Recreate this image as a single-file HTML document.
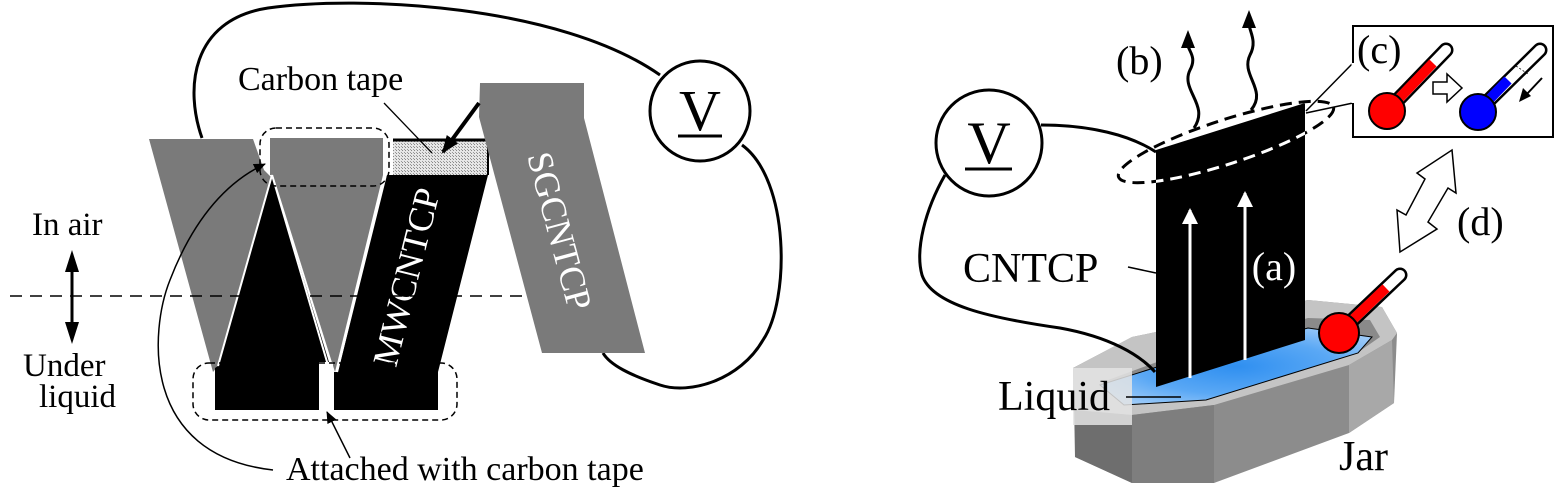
<!DOCTYPE html>
<html><head><meta charset="utf-8"><style>
html,body{margin:0;padding:0;background:#fff;}
svg{display:block;}
svg text{font-family:"Liberation Serif","DejaVu Serif","Times New Roman",serif;}
</style></head><body>
<svg width="1554" height="497" viewBox="0 0 1554 497" xmlns="http://www.w3.org/2000/svg" font-family="Liberation Serif, DejaVu Serif, serif">
<defs>
<pattern id="hatch" width="3" height="3" patternUnits="userSpaceOnUse">
<rect width="3" height="3" fill="#e6e6e6"/><rect width="1" height="1" fill="#888"/><rect x="2" y="2" width="1" height="1" fill="#999"/>
</pattern>
<marker id="ah" markerWidth="12" markerHeight="10" refX="11" refY="5" orient="auto" markerUnits="userSpaceOnUse"><path d="M0,0 L12,5 L0,10 z" fill="#000"/></marker>
<marker id="ahb" markerWidth="18" markerHeight="14" refX="16" refY="7" orient="auto" markerUnits="userSpaceOnUse"><path d="M0,0 L18,7 L0,14 z" fill="#000"/></marker>
<marker id="ahw" markerWidth="16" markerHeight="22" refX="14" refY="8" orient="auto" markerUnits="userSpaceOnUse"><path d="M0,0 L16,8 L0,16 z" fill="#fff"/></marker>
<clipPath id="panelclip"><polygon points="1156,150 1305,103 1305,340 1156,387"/></clipPath>
<radialGradient id="water" cx="0.5" cy="0.5" r="0.6"><stop offset="0" stop-color="#2f8ff0"/><stop offset="0.6" stop-color="#5aa8f5"/><stop offset="1" stop-color="#9ccaf8"/></radialGradient>
</defs>

<!-- LEFT FIGURE -->
<path d="M202,138 C185,90 190,20 268,8 C360,-5 560,5 660,75" fill="none" stroke="#000" stroke-width="3"/>
<path d="M742,145 C790,180 790,300 763,340 C740,380 690,395 660,385 C630,375 610,365 603,353" fill="none" stroke="#000" stroke-width="3"/>
<circle cx="700" cy="111" r="50" fill="#fff" stroke="#000" stroke-width="3"/>
<text x="700" y="130" font-size="58" text-anchor="middle">V</text>
<line x1="678" y1="136" x2="722" y2="136" stroke="#000" stroke-width="3"/>

<!-- gray left -->
<polygon points="149,139 253,139 264,170 271,177 218,366 213,372" fill="#7a7a7a"/>
<!-- gray second -->
<polygon points="270,138 383,138 383,175 335,372 273,175 270,175" fill="#7a7a7a"/>
<!-- black triangle -->
<polygon points="272,175 332,372 325,372 325,410 215,410 215,368 218,366" fill="#000"/>
<line x1="272" y1="175" x2="218" y2="366" stroke="#fff" stroke-width="2"/>
<line x1="272" y1="175" x2="330" y2="372" stroke="#fff" stroke-width="2"/>
<!-- MWCNTCP -->
<polygon points="387,175 488,175 438,372 438,410 334,410 334,372 338,372" fill="#000"/>
<line x1="385" y1="175" x2="337" y2="372" stroke="#fff" stroke-width="2"/>
<rect x="319" y="362" width="14" height="50" fill="#fff"/>
<!-- carbon tape -->
<rect x="393" y="140" width="95" height="35" fill="url(#hatch)"/>
<line x1="393" y1="140" x2="488" y2="140" stroke="#000" stroke-width="3"/>
<line x1="488" y1="139" x2="488" y2="175" stroke="#000" stroke-width="2"/>
<!-- SGCNTCP -->
<polygon points="480,83 584,83 584,118 645,353 542,353 479,117" fill="#7a7a7a"/>
<text transform="translate(556,232) rotate(75)" font-size="36" fill="#fff" text-anchor="middle" dominant-baseline="middle">SGCNTCP</text>
<text transform="translate(410,278) rotate(-76)" font-size="36" fill="#fff" text-anchor="middle" dominant-baseline="middle">MWCNTCP</text>

<!-- dashed boxes -->
<rect x="260" y="128" width="129" height="58" rx="16" fill="none" stroke="#000" stroke-width="1.5" stroke-dasharray="6,4"/>
<rect x="193" y="363" width="264" height="57" rx="16" fill="none" stroke="#000" stroke-width="1.5" stroke-dasharray="6,4"/>
<line x1="10" y1="296" x2="526" y2="296" stroke="#000" stroke-width="1.5" stroke-dasharray="12,8"/>

<!-- texts left -->
<text x="238" y="90" font-size="34">Carbon tape</text>
<text x="286" y="480" font-size="34">Attached with carbon tape</text>
<text x="32" y="235" font-size="33">In air</text>
<text x="23" y="376" font-size="33">Under</text>
<text x="39" y="407" font-size="33">liquid</text>
<line x1="72" y1="262" x2="72" y2="331" stroke="#000" stroke-width="3"/>
<path d="M72,250 L65,272 L79,272 z" fill="#000"/>
<path d="M72,344 L65,322 L79,322 z" fill="#000"/>
<line x1="384" y1="103" x2="432" y2="153" stroke="#000" stroke-width="1.3"/>
<line x1="479" y1="103" x2="443" y2="152" stroke="#000" stroke-width="4" marker-end="url(#ahb)"/>
<path d="M273,470 C140,455 150,330 170,280 C195,215 230,180 265,164" fill="none" stroke="#000" stroke-width="1.5" marker-end="url(#ah)"/>
<line x1="350" y1="458" x2="327" y2="412" stroke="#000" stroke-width="1.5" marker-end="url(#ah)"/>

<!-- RIGHT FIGURE -->
<polygon points="1073,368 1132,337 1308,300 1382,307 1397,333 1394,403 1349,433 1214,483 1132,483 1075,457" fill="#8c8c8c"/>
<polygon points="1073,368 1132,337 1308,300 1382,307 1397,333 1392,340 1349,365 1214,405 1132,415 1075,410" fill="#c4c4c4"/>
<polygon points="1075,410 1132,415 1132,483 1075,457" fill="#6e6e6e"/>
<polygon points="1132,415 1214,405 1214,483 1132,483" fill="#7e7e7e"/>
<polygon points="1349,365 1392,340 1394,403 1349,433" fill="#a8a8a8"/>
<polygon points="1100,383 1157,362 1308,318 1370,320 1380,337 1357,353 1206,400 1124,405" fill="#8a8a8a"/>
<polygon points="1100,385 1157,367 1308,328 1372,337 1358,353 1206,400 1124,405" fill="url(#water)" stroke="#000" stroke-width="1"/>
<rect x="1073" y="368" width="59" height="57" fill="#e4e4e4" opacity="0.85"/>
<text x="1339" y="470" font-size="42">Jar</text>

<path d="M1041,125 C1090,125 1130,135 1156,152" fill="none" stroke="#000" stroke-width="3"/>
<path d="M945,175 C925,210 915,250 922,275 C932,305 990,318 1060,328 C1110,337 1140,355 1155,372" fill="none" stroke="#000" stroke-width="3"/>
<circle cx="989" cy="143" r="53" fill="#fff" stroke="#000" stroke-width="3"/>
<text x="989" y="163" font-size="60" text-anchor="middle">V</text>
<line x1="965" y1="169" x2="1012" y2="169" stroke="#000" stroke-width="3"/>

<ellipse cx="1226" cy="142" rx="113" ry="22" transform="rotate(-18 1226 142)" fill="none" stroke="#000" stroke-width="3" stroke-dasharray="12,7"/>
<polygon points="1156,150 1305,103 1305,340 1156,387" fill="#000"/>
<g clip-path="url(#panelclip)">
<ellipse cx="1226" cy="142" rx="113" ry="22" transform="rotate(-18 1226 142)" fill="none" stroke="#fff" stroke-width="3" stroke-dasharray="12,7"/>
</g>
<line x1="1190" y1="378" x2="1190" y2="210" stroke="#fff" stroke-width="3" marker-end="url(#ahw)"/>
<line x1="1245" y1="360" x2="1245" y2="193" stroke="#fff" stroke-width="3" marker-end="url(#ahw)"/>
<text x="1274" y="280" font-size="40" fill="#fff" text-anchor="middle">(a)</text>
<text x="963" y="282" font-size="42">CNTCP</text>
<line x1="1128" y1="267" x2="1156" y2="273" stroke="#000" stroke-width="1.5"/>
<text x="998" y="410" font-size="42">Liquid</text>
<line x1="1126" y1="397" x2="1181" y2="397" stroke="#000" stroke-width="1.5"/>

<path d="M1194,128 C1210,105 1180,90 1190,70 C1198,55 1186,50 1188,42" fill="none" stroke="#000" stroke-width="3"/>
<path d="M1188,30 L1181,48 L1195,48 z" fill="#000"/>
<path d="M1251,110 C1268,90 1240,75 1250,55 C1258,40 1248,30 1249,22" fill="none" stroke="#000" stroke-width="3"/>
<path d="M1249,10 L1242,28 L1256,28 z" fill="#000"/>
<text x="1116" y="74" font-size="40">(b)</text>

<line x1="1353" y1="63" x2="1306" y2="111" stroke="#000" stroke-width="1.5"/>
<line x1="1353" y1="103" x2="1306" y2="113" stroke="#000" stroke-width="1.5"/>
<rect x="1353" y="26" width="200" height="111" fill="#fff" stroke="#000" stroke-width="2"/>
<line x1="1353" y1="63" x2="1353" y2="103" stroke="#fff" stroke-width="3"/>
<text x="1357" y="63" font-size="40">(c)</text>
<line x1="1390" y1="108" x2="1446" y2="50" stroke="#000" stroke-width="15" stroke-linecap="round"/>
<line x1="1390" y1="108" x2="1446" y2="50" stroke="#fff" stroke-width="10" stroke-linecap="round"/>
<line x1="1390" y1="108" x2="1433" y2="63" stroke="#f00" stroke-width="10"/>
<circle cx="1387" cy="111" r="18" fill="#f00" stroke="#000" stroke-width="2"/>
<line x1="1481" y1="108" x2="1540" y2="50" stroke="#000" stroke-width="15" stroke-linecap="round"/>
<line x1="1481" y1="108" x2="1540" y2="50" stroke="#fff" stroke-width="10" stroke-linecap="round"/>
<line x1="1481" y1="108" x2="1508" y2="80" stroke="#00f" stroke-width="10"/>
<line x1="1516" y1="66" x2="1528" y2="74" stroke="#000" stroke-width="0.8" stroke-dasharray="2,2"/>
<circle cx="1478" cy="112" r="18" fill="#00f" stroke="#000" stroke-width="2"/>
<line x1="1542" y1="78" x2="1526" y2="95" stroke="#000" stroke-width="2"/>
<path d="M1519,102 L1523,88 L1531,96 z" fill="#000"/>
<polygon points="1433,82 1447,82 1447,74 1462,88 1447,102 1447,94 1433,94" fill="#fff" stroke="#000" stroke-width="1.5"/>

<polygon points="1452,150 1456,193 1448,188 1428,222 1437,229 1400,252 1397,210 1406,215 1425,179 1417,173" fill="#fff" stroke="#000" stroke-width="1.5"/>
<text x="1457" y="235" font-size="40">(d)</text>

<line x1="1342" y1="330" x2="1400" y2="275" stroke="#000" stroke-width="15" stroke-linecap="round"/>
<line x1="1342" y1="330" x2="1400" y2="275" stroke="#fff" stroke-width="10" stroke-linecap="round"/>
<line x1="1342" y1="330" x2="1386" y2="288" stroke="#f00" stroke-width="10"/>
<circle cx="1339" cy="333" r="20" fill="#f00" stroke="#000" stroke-width="2"/>
</svg>
</body></html>
